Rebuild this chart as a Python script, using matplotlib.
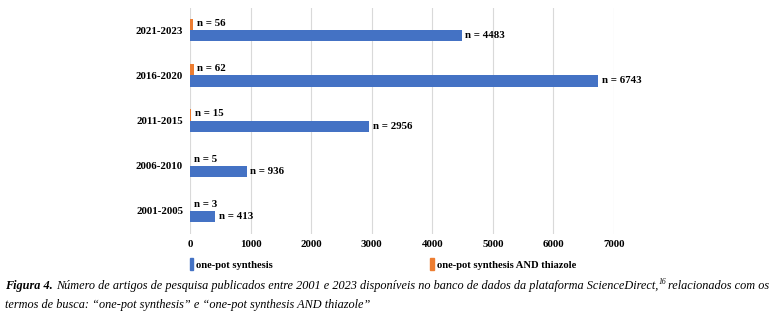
import matplotlib
matplotlib.use("Agg")
import matplotlib.pyplot as plt
from matplotlib.patches import Patch
import numpy as np

categories = ["2001-2005", "2006-2010", "2011-2015", "2016-2020", "2021-2023"]
onepot = [413, 936, 2956, 6743, 4483]
thiazole = [3, 5, 15, 62, 56]
series_names = ["one-pot synthesis", "one-pot synthesis AND thiazole"]
xticks = [0, 1000, 2000, 3000, 4000, 5000, 6000, 7000]

BLUE = "#4472C4"
ORANGE = "#ED7D31"
SERIF = "Liberation Serif"

fig = plt.figure(figsize=(7.83, 3.18), dpi=100)
ax = fig.add_axes([190/783, 1-233.5/318, (614-190)/783, (233.5-7.5)/318])

y = np.arange(len(categories))
h = 0.25
ax.barh(y - h/2, onepot, height=h, color=BLUE, zorder=3)
ax.barh(y + h/2, thiazole, height=h, color=ORANGE, zorder=3)

for yi, v in zip(y, onepot):
    ax.text(v + 60, yi - h/2, f"n = {v}", va="center", ha="left",
            fontfamily=SERIF, fontweight="bold", fontsize=7.8)
for yi, v in zip(y, thiazole):
    ax.text(v + 60, yi + h/2 + 0.02, f"n = {v}", va="center", ha="left",
            fontfamily=SERIF, fontweight="bold", fontsize=7.8)

ax.set_xlim(0, 7000)
ax.set_ylim(-0.5, len(categories) - 0.5)
ax.set_xticks(xticks)
ax.set_yticks(y)
ax.set_yticklabels(categories)
ax.grid(axis="x", color="#d9d9d9", linewidth=0.8, zorder=0)
for s in ax.spines.values():
    s.set_visible(False)
ax.tick_params(length=0, pad=5)
for lab in ax.get_xticklabels() + ax.get_yticklabels():
    lab.set_fontfamily(SERIF)
    lab.set_fontweight("bold")
    lab.set_fontsize(7.8)

handles = [Patch(color=BLUE), Patch(color=ORANGE)]
leg = fig.legend(handles, series_names, loc="center left", ncol=2,
                 bbox_to_anchor=(190/783, 1-264/318), frameon=False,
                 handlelength=0.3, handleheight=1.4, handletextpad=0.3,
                 columnspacing=14.9, borderaxespad=0, borderpad=0,
                 prop={"family": SERIF, "weight": "bold", "size": 7.6})

FS = 8.87
t1 = fig.text(5/783, 1-286/318, "Figura 4.", fontfamily=SERIF, fontstyle="italic",
              fontweight="bold", fontsize=FS, va="center", ha="left")
fig.canvas.draw()
bb = t1.get_window_extent()
x1 = (bb.x1 + 3) / 783
t2 = fig.text(x1, 1-286/318,
              "Número de artigos de pesquisa publicados entre 2001 e 2023 disponíveis no banco de dados da plataforma ScienceDirect,",
              fontfamily=SERIF, fontstyle="italic", fontsize=FS, va="center", ha="left")
fig.canvas.draw()
bb2 = t2.get_window_extent()
t3 = fig.text((bb2.x1 + 0.5) / 783, 1-282/318, "16", fontfamily=SERIF, fontstyle="italic",
              fontsize=5.5, va="center", ha="left")
fig.canvas.draw()
bb3 = t3.get_window_extent()
fig.text((bb3.x1 + 2) / 783, 1-286/318, "relacionados com os",
         fontfamily=SERIF, fontstyle="italic", fontsize=FS, va="center", ha="left")
fig.text(5/783, 1-305/318,
         "termos de busca: \u201cone-pot synthesis\u201d e \u201cone-pot synthesis AND thiazole\u201d",
         fontfamily=SERIF, fontstyle="italic", fontsize=FS, va="center", ha="left")

fig.savefig("out.png", dpi=100)
